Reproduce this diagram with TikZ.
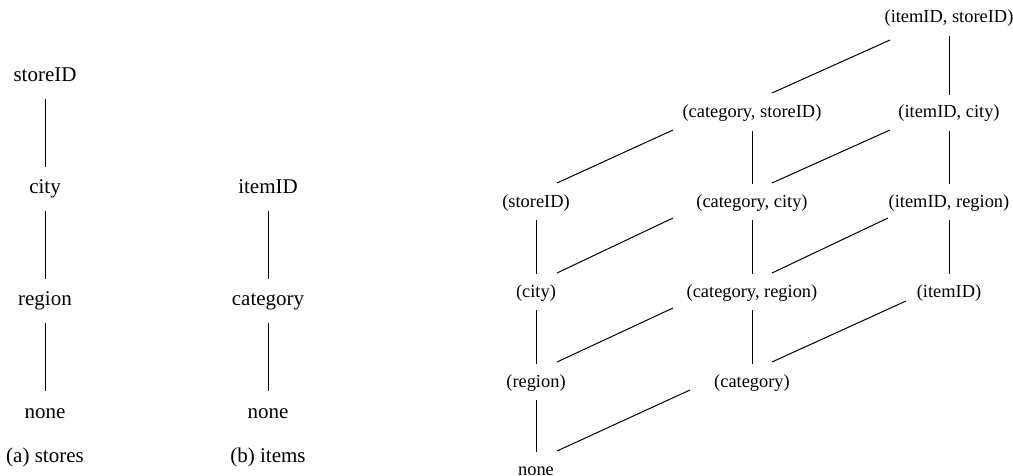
\documentclass[tikz,border=0pt]{standalone}
\usepackage{fontspec}
\setmainfont{Liberation Serif}
\newfontfamily\labelfont{Liberation Serif}
\begin{document}
\begin{tikzpicture}[x=0.5pt,y=-0.5pt,inner sep=0pt,outer sep=0pt,line width=0.5pt,
        dim/.style={font=\labelfont\fontsize{10.5}{12}\selectfont,text height=.75em,text depth=.25em,minimum height=22pt},
        cub/.style={font=\labelfont\fontsize{9.2}{11}\selectfont,text height=.75em,text depth=.25em,minimum height=18pt}]
\useasboundingbox (0,0) rectangle (1013,476);
% (a) stores
\draw (45, 77) node[dim](store0) {storeID};
\draw (45, 189) node[dim](store1) {city};
\draw (45, 301) node[dim](store2) {region};
\draw (45, 413) node[dim](store3) {none};
\draw (45, 457) node[dim](capa) {(a) stores};
% (b) items
\draw (268, 189) node[dim](item0) {itemID};
\draw (268, 301) node[dim](item1) {category};
\draw (268, 413) node[dim](item2) {none};
\draw (268, 457) node[dim](capb) {(b) items};
\draw (store0) -- (store1);
\draw (store1) -- (store2);
\draw (store2) -- (store3);
\draw (item0) -- (item1);
\draw (item1) -- (item2);
% lattice of cuboids
\draw (949, 18) node[cub](cub0) {(itemID, storeID)};
\draw (752, 113) node[cub](cub1) {(category, storeID)};
\draw (949, 113) node[cub](cub2) {(itemID, city)};
\draw (536, 202) node[cub](cub3) {(storeID)};
\draw (752, 202) node[cub](cub4) {(category, city)};
\draw (949, 202) node[cub](cub5) {(itemID, region)};
\draw (536, 292) node[cub](cub6) {(city)};
\draw (752, 292) node[cub](cub7) {(category, region)};
\draw (949, 292) node[cub](cub8) {(itemID)};
\draw (536, 382) node[cub](cub9) {(region)};
\draw (752, 382) node[cub](cub10) {(category)};
\draw (536, 470) node[cub](cub11) {none};
\draw (cub0) -- (cub2);
\draw (cub2) -- (cub5);
\draw (cub5) -- (cub8);
\draw (cub1) -- (cub4);
\draw (cub4) -- (cub7);
\draw (cub7) -- (cub10);
\draw (cub3) -- (cub6);
\draw (cub6) -- (cub9);
\draw (cub9) -- (cub11);
\draw ([shift={(-59,22)}]cub0.center) -- ([shift={(20,-20)}]cub1.center);
\draw ([shift={(-79,17)}]cub1.center) -- ([shift={(21,-19)}]cub3.center);
\draw ([shift={(-59,17)}]cub2.center) -- ([shift={(20,-19)}]cub4.center);
\draw ([shift={(-79,16)}]cub4.center) -- ([shift={(21,-19)}]cub6.center);
\draw ([shift={(-61,16)}]cub5.center) -- ([shift={(20,-19)}]cub7.center);
\draw ([shift={(-79,16)}]cub7.center) -- ([shift={(21,-20)}]cub9.center);
\draw ([shift={(-43,9)}]cub8.center) -- ([shift={(20,-20)}]cub10.center);
\draw ([shift={(-62,8)}]cub10.center) -- ([shift={(21,-19)}]cub11.center);
\end{tikzpicture}
\end{document}
